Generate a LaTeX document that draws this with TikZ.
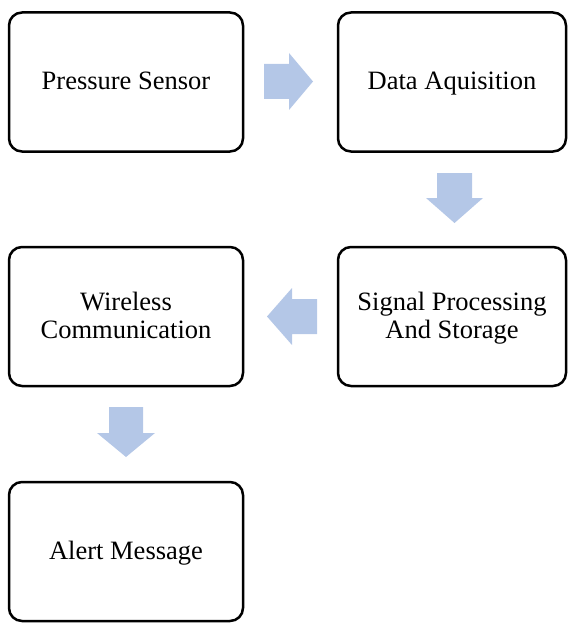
\documentclass[tikz,border=0pt]{standalone}
\usepackage{fontspec}
\setmainfont{Liberation Serif}
\definecolor{arrowblue}{HTML}{B4C7E7}
\newcommand{\bstrut}{\rule[-6pt]{0pt}{28pt}}
\begin{document}
\begin{tikzpicture}[x=1pt,y=-1pt,
  box/.style={draw=black, line width=2.5pt, rounded corners=13pt, fill=white,
    minimum width=234pt, minimum height=139pt, align=center, inner sep=0pt,
    font=\fontsize{26.5}{28}\selectfont},
  blockarrow/.style={fill=arrowblue, draw=none}]
\useasboundingbox (0,0) rectangle (568,623);
\node[box] (ps) at (126,82) {\bstrut Pressure Sensor};
\node[box, minimum width=228pt] (da) at (452,82) {\bstrut Data Aquisition};
\node[box, minimum width=228pt] (sp) at (452,316.5) {\bstrut Signal Processing\\\bstrut And Storage};
\node[box] (wc) at (126,316.5) {\bstrut Wireless\\\bstrut Communication};
\node[box] (am) at (126,551.5) {\bstrut Alert Message};
% block arrows
\fill[blockarrow] (264,64) -- (289,64) -- (289,53) -- (313,81.5) -- (289,110) -- (289,99) -- (264,99) -- cycle;
\fill[blockarrow] (437,173) -- (472,173) -- (472,198) -- (483,198) -- (454.5,223) -- (426,198) -- (437,198) -- cycle;
\fill[blockarrow] (317,299) -- (292,299) -- (292,288) -- (267,316.5) -- (292,345) -- (292,334) -- (317,334) -- cycle;
\fill[blockarrow] (109,407) -- (143,407) -- (143,433) -- (155,433) -- (126,457) -- (97,433) -- (109,433) -- cycle;
\end{tikzpicture}
\end{document}
